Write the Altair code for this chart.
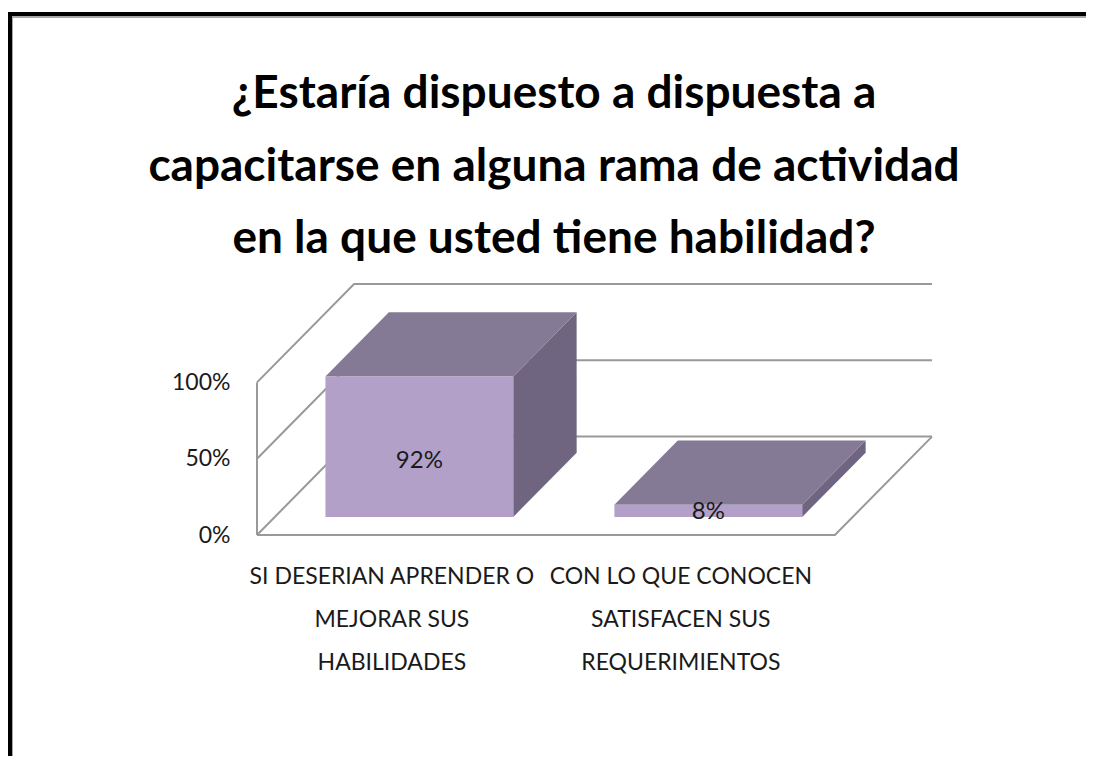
import json
import altair as alt
import pandas as pd

# ---------------- data ----------------
title_lines = [
    "¿Estaría dispuesto a dispuesta a",
    "capacitarse en alguna rama de actividad",
    "en la que usted tiene habilidad?",
]
categories = [
    "SI DESERIAN APRENDER O MEJORAR SUS HABILIDADES",
    "CON LO QUE CONOCEN SATISFACEN SUS REQUERIMIENTOS",
]
category_lines = [
    ["SI DESERIAN APRENDER O", "MEJORAR SUS", "HABILIDADES"],
    ["CON LO QUE CONOCEN", "SATISFACEN SUS", "REQUERIMIENTOS"],
]
values = [0.92, 0.08]
y_ticks = [0.0, 0.5, 1.0]

# ---------------- 3-D projection settings (data units) ----------------
DX, DY = 0.336, 0.645      # depth of the wall/floor, in x and y units
BW = 0.65                  # bar width, in category units
F0, F1 = 0.184, 0.837      # bar front / back depth, as a fraction of the wall depth
LABEL_POS = 0.40           # label height as a fraction of the bar value
CAT_LABEL_SHIFT = 0.035    # category labels sit slightly left of the front centre

FONT = "Lato"
FRONT_C, TOP_C, SIDE_C = "#b3a0c8", "#857a96", "#706580"
GRID_C = "#999999"
TEXT_C = "#1a1a1a"

n = len(categories)
d, e = (F1 - F0) * DX, (F1 - F0) * DY

front, tops, sides, labels = [], [], [], []
for i, (c, v) in enumerate(zip(categories, values)):
    xl = i + 0.5 - BW / 2 + F0 * DX
    xr = xl + BW
    yb = F0 * DY
    yt = yb + v
    front.append(dict(cat=c, x=xl, x2=xr, y=yb, y2=yt))
    tops += [
        dict(cat=c, x=xl, y=yt, y2=yt),
        dict(cat=c, x=xl + d, y=yt, y2=yt + e),
        dict(cat=c, x=xr, y=yt, y2=yt + e),
        dict(cat=c, x=xr + d, y=yt + e, y2=yt + e),
    ]
    sides += [
        dict(cat=c, x=xr, y=yb, y2=yt),
        dict(cat=c, x=xr + d, y=yb + e, y2=yt + e),
    ]
    labels.append(dict(cat=c, x=(xl + xr) / 2, y=yb + v * LABEL_POS, v=v))

grid = []
for t in y_ticks:
    for k, (x, y) in enumerate([(0, t), (DX, t + DY), (n + DX, t + DY)]):
        grid.append(dict(g=f"grid{t}", k=k, x=x, y=y))
for k, (x, y) in enumerate([(0, 0), (n, 0), (n + DX, DY)]):
    grid.append(dict(g="floor", k=k, x=x, y=y))
for k, (x, y) in enumerate([(0, 0), (0, max(y_ticks))]):
    grid.append(dict(g="left", k=k, x=x, y=y))

# ---------------- layout ----------------
PAD_L, PAD_T = 249, 276
W, H = 675, 251
PAD_R = 1086 - 8 - PAD_L - W
PAD_B = 748 - PAD_T - H

label_expr = json.dumps(category_lines) + "[floor(datum.value)]"

xenc = alt.X(
    "x:Q",
    scale=alt.Scale(domain=[0, n + DX], nice=False, zero=False),
    axis=alt.Axis(
        values=[i + 0.5 - CAT_LABEL_SHIFT for i in range(n)],
        labelExpr=label_expr,
        title=None, domain=False, ticks=False, grid=False,
        labelFlush=False, labelOverlap=False, labelBound=False, labelLimit=0,
        labelPadding=30, labelFont=FONT, labelFontSize=23,
        labelLineHeight=43, labelColor=TEXT_C, labelBaseline="top",
    ),
)
yenc = alt.Y(
    "y:Q",
    scale=alt.Scale(domain=[0, 1 + DY], nice=False, zero=False),
    axis=alt.Axis(
        values=y_ticks, format=".0%",
        title=None, domain=False, ticks=False, grid=False,
        labelFlush=False, labelPadding=27, labelFont=FONT,
        labelFontSize=23, labelColor=TEXT_C,
    ),
)

grid_layer = alt.Chart(pd.DataFrame(grid)).mark_line(
    color=GRID_C, strokeWidth=2
).encode(x=xenc, y=yenc, detail="g:N", order="k:Q")

side_layer = alt.Chart(pd.DataFrame(sides)).mark_area(
    color=SIDE_C, orient="vertical", strokeWidth=0
).encode(x=xenc, y=yenc, y2="y2:Q", detail="cat:N")

top_layer = alt.Chart(pd.DataFrame(tops)).mark_area(
    color=TOP_C, orient="vertical", strokeWidth=0
).encode(x=xenc, y=yenc, y2="y2:Q", detail="cat:N")

front_layer = alt.Chart(pd.DataFrame(front)).mark_rect(
    color=FRONT_C
).encode(x=xenc, x2="x2:Q", y=yenc, y2="y2:Q")

text_layer = alt.Chart(pd.DataFrame(labels)).mark_text(
    font=FONT, fontSize=24, color=TEXT_C, baseline="middle", align="center"
).encode(x=xenc, y=yenc, text=alt.Text("v:Q", format=".0%"))

one = pd.DataFrame({"a": [0]})

title_layer = alt.Chart(one).mark_text(
    font=FONT, fontSize=46, fontWeight="bold", color="black",
    align="center", baseline="alphabetic", lineHeight=72.5,
).encode(x=alt.value(554 - PAD_L - 8), y=alt.value(108 - PAD_T - 8),
         text=alt.value(title_lines))

border = alt.layer(
    alt.Chart(one).mark_rule(color="black", strokeWidth=4).encode(
        x=alt.value(-PAD_L), x2=alt.value(W + PAD_R), y=alt.value(14 - PAD_T - 8)),
    alt.Chart(one).mark_rule(color="#a8a8a8", strokeWidth=2).encode(
        x=alt.value(-PAD_L + 4), x2=alt.value(W + PAD_R), y=alt.value(17 - PAD_T - 8)),
    alt.Chart(one).mark_rule(color="black", strokeWidth=4).encode(
        x=alt.value(-PAD_L + 2), y=alt.value(12 - PAD_T - 8), y2=alt.value(H + PAD_B)),
    alt.Chart(one).mark_rule(color="#a8a8a8", strokeWidth=1).encode(
        x=alt.value(-PAD_L + 4.5), y=alt.value(16 - PAD_T - 8), y2=alt.value(H + PAD_B)),
)

chart = alt.layer(
    grid_layer, side_layer, top_layer, front_layer, text_layer, title_layer, border
).properties(
    width=W, height=H,
    autosize=alt.AutoSizeParams(type="none"),
    padding={"left": PAD_L, "top": PAD_T, "right": PAD_R, "bottom": PAD_B},
).configure(background="white").configure_view(stroke="transparent", strokeWidth=0)

chart.save("out.html", embed_options={"renderer": "svg", "actions": False})
